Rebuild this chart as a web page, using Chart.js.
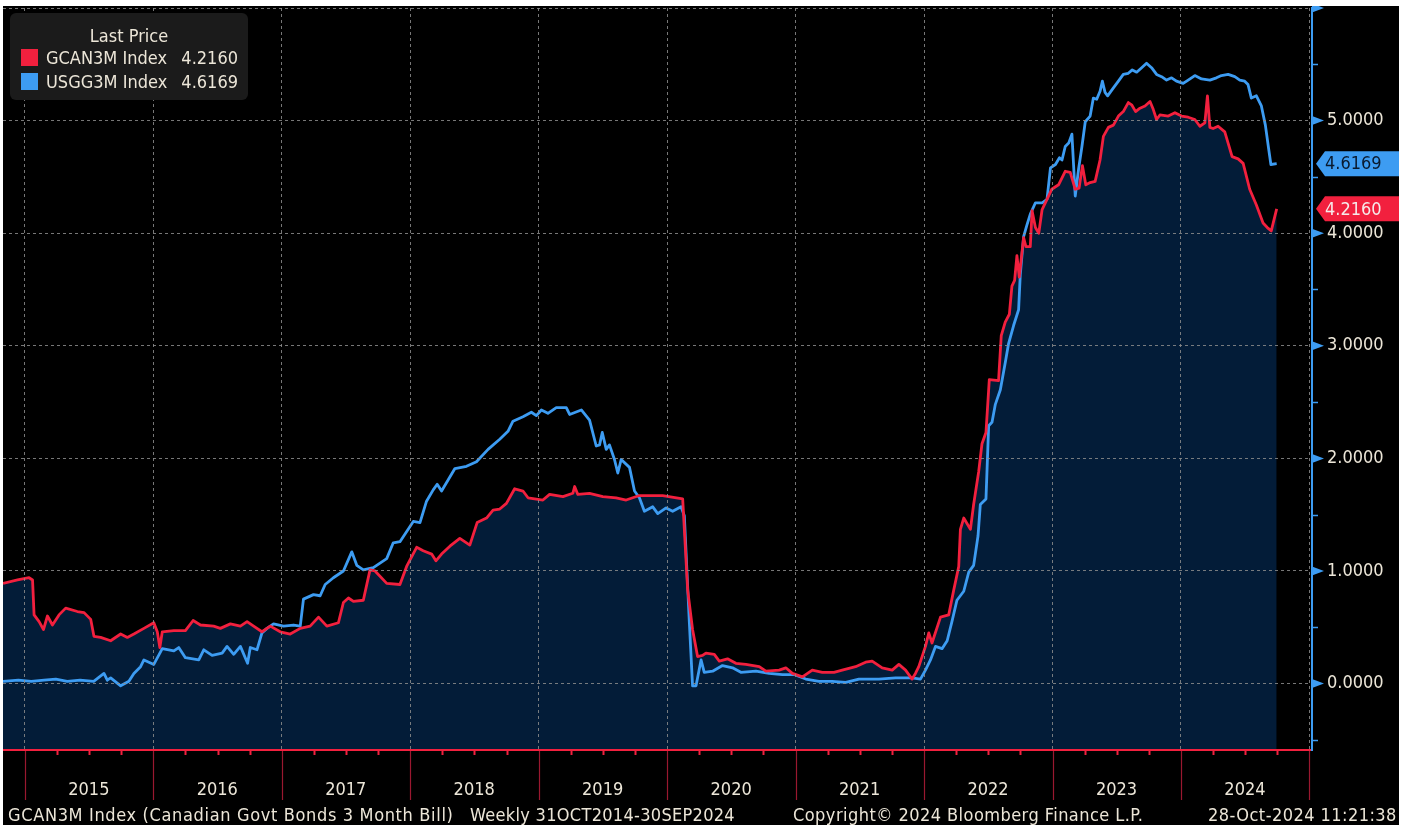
<!DOCTYPE html>
<html>
<head>
<meta charset="utf-8">
<script src="https://cdn.jsdelivr.net/npm/chart.js@4"></script>
<style>
	html, body { margin: 0; padding: 0; background: #fff; }
	#frame { position: absolute; left: 3px; top: 6px; width: 1396px; height: 819px; background: #000; overflow: hidden; }
	#chart { position: absolute; left: 0; top: 0; }
	.txt { position: absolute; font-family: 'DejaVu Sans Condensed', 'DejaVu Sans', sans-serif; font-size: 18px; line-height: 20px; color: #ece6d8; white-space: pre; }
	.foot { letter-spacing: 0.45px; }
	#legend { position: absolute; left: 7px; top: 7px; width: 238px; height: 87px; background: #1b1b1b; border-radius: 6px; }
	.sw { position: absolute; width: 17px; height: 17px; }
</style>
</head>
<body>
<div id="frame">
	<canvas id="chart" width="1396" height="819"></canvas>
	<div id="legend"></div>
</div>
<script>
// weekly closes, time as decimal year
const gcanT = [2014.83, 2014.943, 2015.033, 2015.060, 2015.072, 2015.111, 2015.145, 2015.176, 2015.215, 2015.266,
	2015.318, 2015.409, 2015.461, 2015.513, 2015.538, 2015.590, 2015.668, 2015.746, 2015.798, 2015.849,
	2015.927, 2016.004, 2016.031, 2016.051, 2016.070, 2016.160, 2016.250, 2016.310, 2016.367, 2016.470,
	2016.522, 2016.600, 2016.678, 2016.730, 2016.781, 2016.846, 2016.911, 2016.988, 2017.066, 2017.144,
	2017.221, 2017.286, 2017.351, 2017.441, 2017.480, 2017.519, 2017.558, 2017.635, 2017.687, 2017.726,
	2017.817, 2017.920, 2017.972, 2018.050, 2018.101, 2018.167, 2018.200, 2018.244, 2018.309, 2018.386,
	2018.464, 2018.521, 2018.594, 2018.645, 2018.697, 2018.749, 2018.813, 2018.878, 2018.917, 2019.033,
	2019.085, 2019.189, 2019.266, 2019.280, 2019.305, 2019.396, 2019.499, 2019.603, 2019.681, 2019.784,
	2019.965, 2020.121, 2020.160, 2020.198, 2020.237, 2020.276, 2020.302, 2020.367, 2020.406, 2020.470,
	2020.535, 2020.613, 2020.717, 2020.769, 2020.872, 2020.924, 2020.975, 2021.053, 2021.130, 2021.208,
	2021.299, 2021.363, 2021.467, 2021.545, 2021.596, 2021.674, 2021.752, 2021.804, 2021.856, 2021.907,
	2021.933, 2021.959, 2022.011, 2022.037, 2022.062, 2022.128, 2022.192, 2022.231, 2022.270, 2022.283,
	2022.309, 2022.361, 2022.386, 2022.425, 2022.451, 2022.482, 2022.508, 2022.580, 2022.601, 2022.632,
	2022.664, 2022.684, 2022.705, 2022.723, 2022.741, 2022.775, 2022.793, 2022.827, 2022.841, 2022.867,
	2022.893, 2022.919, 2022.994, 2023.047, 2023.099, 2023.138, 2023.177, 2023.207, 2023.233, 2023.259,
	2023.293, 2023.332, 2023.370, 2023.396, 2023.435, 2023.474, 2023.513, 2023.551, 2023.590, 2023.616,
	2023.647, 2023.681, 2023.720, 2023.759, 2023.784, 2023.810, 2023.836, 2023.901, 2023.953, 2024.004,
	2024.056, 2024.108, 2024.147, 2024.186, 2024.206, 2024.225, 2024.250, 2024.289, 2024.341, 2024.367,
	2024.398, 2024.445, 2024.484, 2024.535, 2024.587, 2024.639, 2024.672, 2024.703, 2024.745];
const gcanV = [0.89, 0.92, 0.94, 0.92, 0.61, 0.55, 0.48, 0.60, 0.52, 0.61,
	0.67, 0.64, 0.63, 0.57, 0.42, 0.41, 0.38, 0.44, 0.41, 0.44,
	0.49, 0.54, 0.46, 0.32, 0.46, 0.47, 0.47, 0.56, 0.52, 0.51,
	0.49, 0.53, 0.51, 0.55, 0.51, 0.46, 0.51, 0.46, 0.44, 0.49,
	0.51, 0.59, 0.51, 0.54, 0.72, 0.76, 0.73, 0.74, 1.01, 1.00,
	0.89, 0.88, 1.04, 1.21, 1.18, 1.15, 1.09, 1.15, 1.22, 1.29,
	1.23, 1.43, 1.47, 1.54, 1.55, 1.60, 1.73, 1.71, 1.65, 1.63,
	1.68, 1.66, 1.69, 1.75, 1.68, 1.69, 1.66, 1.65, 1.63, 1.67,
	1.67, 1.64, 0.83, 0.48, 0.24, 0.25, 0.27, 0.26, 0.20, 0.22,
	0.18, 0.17, 0.15, 0.11, 0.12, 0.14, 0.09, 0.06, 0.12, 0.10,
	0.10, 0.12, 0.15, 0.19, 0.20, 0.14, 0.12, 0.17, 0.12, 0.04,
	0.09, 0.15, 0.33, 0.45, 0.36, 0.59, 0.61, 0.83, 1.04, 1.37,
	1.47, 1.37, 1.59, 1.88, 2.13, 2.23, 2.70, 2.69, 3.09, 3.21,
	3.28, 3.53, 3.58, 3.80, 3.61, 3.96, 3.88, 3.88, 4.20, 4.05,
	4.00, 4.21, 4.39, 4.43, 4.55, 4.54, 4.39, 4.40, 4.60, 4.43,
	4.45, 4.46, 4.65, 4.86, 4.94, 4.96, 5.04, 5.08, 5.16, 5.14,
	5.08, 5.11, 5.13, 5.17, 5.10, 5.01, 5.05, 5.04, 5.07, 5.04,
	5.03, 5.01, 4.95, 4.98, 5.22, 4.94, 4.93, 4.95, 4.90, 4.80,
	4.68, 4.66, 4.62, 4.39, 4.25, 4.09, 4.05, 4.02, 4.2160];

const usggT = [2014.83, 2014.95, 2015.05, 2015.15, 2015.241, 2015.33, 2015.43, 2015.536, 2015.616, 2015.642,
	2015.668, 2015.746, 2015.810, 2015.849, 2015.901, 2015.927, 2016.004, 2016.070, 2016.160, 2016.198,
	2016.250, 2016.354, 2016.393, 2016.458, 2016.536, 2016.574, 2016.626, 2016.678, 2016.734, 2016.755,
	2016.807, 2016.846, 2016.885, 2016.936, 2017.014, 2017.092, 2017.144, 2017.169, 2017.247, 2017.299,
	2017.338, 2017.402, 2017.480, 2017.545, 2017.584, 2017.635, 2017.713, 2017.817, 2017.868, 2017.920,
	2018.024, 2018.076, 2018.127, 2018.179, 2018.210, 2018.244, 2018.296, 2018.348, 2018.438, 2018.516,
	2018.606, 2018.697, 2018.761, 2018.800, 2018.878, 2018.943, 2018.982, 2019.021, 2019.072, 2019.137,
	2019.215, 2019.241, 2019.332, 2019.396, 2019.448, 2019.474, 2019.495, 2019.526, 2019.551, 2019.590,
	2019.616, 2019.642, 2019.707, 2019.746, 2019.784, 2019.823, 2019.888, 2019.927, 2019.992, 2020.043,
	2020.108, 2020.134, 2020.173, 2020.198, 2020.225, 2020.264, 2020.289, 2020.354, 2020.431, 2020.509,
	2020.574, 2020.691, 2020.794, 2020.897, 2020.988, 2021.079, 2021.182, 2021.286, 2021.390, 2021.493,
	2021.649, 2021.778, 2021.907, 2021.972, 2022.011, 2022.050, 2022.089, 2022.140, 2022.180, 2022.217,
	2022.256, 2022.309, 2022.348, 2022.386, 2022.420, 2022.438, 2022.482, 2022.503, 2022.529, 2022.555,
	2022.594, 2022.632, 2022.658, 2022.697, 2022.736, 2022.749, 2022.775, 2022.800, 2022.827, 2022.867,
	2022.919, 2022.957, 2022.984, 2023.023, 2023.054, 2023.074, 2023.099, 2023.126, 2023.151, 2023.177,
	2023.203, 2023.229, 2023.255, 2023.293, 2023.318, 2023.344, 2023.370, 2023.388, 2023.409, 2023.429,
	2023.474, 2023.513, 2023.551, 2023.590, 2023.621, 2023.655, 2023.694, 2023.732, 2023.771, 2023.810,
	2023.849, 2023.888, 2023.927, 2023.965, 2024.017, 2024.056, 2024.108, 2024.160, 2024.225, 2024.276,
	2024.315, 2024.367, 2024.419, 2024.458, 2024.496, 2024.522, 2024.548, 2024.587, 2024.626, 2024.657,
	2024.680, 2024.700, 2024.745];
const usggV = [0.02, 0.03, 0.02, 0.03, 0.04, 0.02, 0.03, 0.02, 0.09, 0.03,
	0.05, -0.02, 0.02, 0.09, 0.15, 0.21, 0.17, 0.31, 0.29, 0.32,
	0.23, 0.21, 0.30, 0.25, 0.27, 0.33, 0.26, 0.33, 0.18, 0.32,
	0.30, 0.45, 0.49, 0.53, 0.51, 0.52, 0.51, 0.75, 0.79, 0.78,
	0.88, 0.94, 1.00, 1.17, 1.05, 1.01, 1.03, 1.11, 1.25, 1.26,
	1.44, 1.43, 1.62, 1.72, 1.77, 1.71, 1.81, 1.91, 1.93, 1.97,
	2.08, 2.17, 2.24, 2.33, 2.37, 2.41, 2.38, 2.43, 2.40, 2.45,
	2.45, 2.39, 2.43, 2.34, 2.11, 2.12, 2.23, 2.08, 2.12, 1.99,
	1.87, 1.99, 1.92, 1.71, 1.65, 1.53, 1.57, 1.51, 1.56, 1.53,
	1.57, 1.49, 0.54, -0.02, -0.02, 0.21, 0.10, 0.11, 0.16, 0.14,
	0.10, 0.11, 0.09, 0.08, 0.08, 0.04, 0.02, 0.02, 0.01, 0.04,
	0.04, 0.05, 0.05, 0.04, 0.12, 0.21, 0.33, 0.31, 0.38, 0.55,
	0.74, 0.82, 0.99, 1.05, 1.31, 1.59, 1.64, 2.29, 2.32, 2.48,
	2.61, 2.85, 3.02, 3.18, 3.32, 3.63, 3.97, 4.07, 4.17, 4.27,
	4.27, 4.30, 4.58, 4.61, 4.67, 4.65, 4.77, 4.80, 4.88, 4.33,
	4.57, 4.77, 4.99, 5.04, 5.20, 5.19, 5.26, 5.35, 5.25, 5.22,
	5.29, 5.35, 5.41, 5.42, 5.45, 5.43, 5.47, 5.51, 5.47, 5.41,
	5.39, 5.36, 5.38, 5.35, 5.33, 5.36, 5.40, 5.37, 5.36, 5.38,
	5.40, 5.41, 5.39, 5.36, 5.35, 5.32, 5.20, 5.22, 5.13, 4.96,
	4.77, 4.61, 4.6169];

const seriesNames = ['GCAN3M Index', 'USGG3M Index'];
const legendTitle = 'Last Price';
const yearTicks = [2015, 2016, 2017, 2018, 2019, 2020, 2021, 2022, 2023, 2024];
const footer = [
	['GCAN3M Index (Canadian Govt Bonds 3 Month Bill)', 5, 0.65],
	['Weekly 31OCT2014-30SEP2024', 467, 0.3],
	['Copyright\u00a9 2024 Bloomberg Finance L.P.', 790, 0.45],
	['28-Oct-2024 11:21:38', 1205, 0.45]
];

const RED = '#f2203e';
const BLUE = '#3d9cf2';
const NAVY = '#031c38';
const TEXT = '#ece6d8';
const FONT_FAMILY = "'DejaVu Sans Condensed', 'DejaVu Sans', sans-serif";

const pts = (t, v) => t.map((x, i) => ({x, y: v[i]}));
const lastG = gcanV[gcanV.length - 1];
const lastU = usggV[usggV.length - 1];

// legend + footer as plain text
const legend = document.getElementById('legend'); {
	const ttl = document.createElement('div');
	ttl.className = 'txt';
	ttl.textContent = legendTitle;
	ttl.style.cssText = 'left:0;width:238px;text-align:center;top:13px';
	legend.appendChild(ttl);
	[[RED, lastG], [BLUE, lastU]].forEach(([c, v], i) => {
		const top = 36 + i * 24;
		const sw = document.createElement('div');
		sw.className = 'sw';
		sw.style.cssText = `left:11px;top:${top}px;background:${c}`;
		legend.appendChild(sw);
		const nm = document.createElement('div');
		nm.className = 'txt';
		nm.textContent = seriesNames[i];
		nm.style.cssText = `left:36px;top:${top - 1}px`;
		legend.appendChild(nm);
		const val = document.createElement('div');
		val.className = 'txt';
		val.textContent = v.toFixed(4);
		val.style.cssText = `right:10px;top:${top - 1}px`;
		legend.appendChild(val);
	});
}
footer.forEach(([s, left, sp]) => {
	const d = document.createElement('div');
	d.className = 'txt';
	d.textContent = s;
	d.style.cssText = `left:${left}px;top:799px;letter-spacing:${sp}px`;
	document.getElementById('frame').appendChild(d);
});

const bbgAxes = {
	id: 'bbgAxes',
	afterDraw(chart) {
		const {ctx, chartArea, scales: {x, y}} = chart;
		const base = chartArea.bottom;
		const ax = chartArea.right;
		ctx.save();
		// quarter + year ticks under the red axis
		for (let yr = 2014; yr <= 2025; yr++) {
			for (let q = 0; q < 4; q++) {
				const v = yr + q / 4;
				if (v < x.min || v > x.max) continue;
				const px = Math.round(x.getPixelForValue(v)) + 0.5;
				ctx.beginPath();
				if (q === 0) {
					ctx.strokeStyle = '#9a1830';
					ctx.lineWidth = 1.2;
					ctx.moveTo(px, base + 1);
					ctx.lineTo(px, base + 50);
				} else {
					ctx.strokeStyle = RED;
					ctx.lineWidth = 2;
					ctx.moveTo(px, base);
					ctx.lineTo(px, base + 5);
				}
				ctx.stroke();
			}
		}
		// triangles at the whole numbers, short ticks at the halves
		ctx.fillStyle = BLUE;
		ctx.strokeStyle = BLUE;
		ctx.lineWidth = 1.5;
		for (let k = -1; k <= 12; k++) {
			const v = k / 2;
			if (v < y.min || v > y.max) continue;
			const py = y.getPixelForValue(v);
			if (k % 2 === 0) {
				ctx.beginPath();
				ctx.moveTo(ax, py - 4.5);
				ctx.lineTo(ax + 12, py);
				ctx.lineTo(ax, py + 4.5);
				ctx.closePath();
				ctx.fill();
			} else {
				ctx.beginPath();
				ctx.moveTo(ax, Math.round(py) + 0.5);
				ctx.lineTo(ax + 6, Math.round(py) + 0.5);
				ctx.stroke();
			}
		}
		// last value tags
		const tag = (val, bg, fg) => {
			const py = y.getPixelForValue(val);
			ctx.fillStyle = bg;
			ctx.beginPath();
			ctx.moveTo(ax + 4, py);
			ctx.lineTo(ax + 13, py - 12.5);
			ctx.lineTo(chart.width, py - 12.5);
			ctx.lineTo(chart.width, py + 12.5);
			ctx.lineTo(ax + 13, py + 12.5);
			ctx.closePath();
			ctx.fill();
			ctx.fillStyle = fg;
			ctx.font = `18px ${FONT_FAMILY}`;
			ctx.textBaseline = 'middle';
			ctx.textAlign = 'left';
			ctx.fillText(val.toFixed(4), ax + 13, py + 1);
		};
		tag(lastU, BLUE, '#0a1a2e');
		tag(lastG, RED, '#f6eaea');
		ctx.restore();
	}
};

const chart = new Chart(document.getElementById('chart').getContext('2d'), {
	type: 'line',
	data: {
		datasets: [
			{
				label: seriesNames[0],
				data: pts(gcanT, gcanV),
				borderColor: RED,
				backgroundColor: NAVY,
				borderWidth: 2.8,
				borderJoinStyle: 'round',
				pointRadius: 0,
				tension: 0,
				fill: 'start'
			},
			{
				label: seriesNames[1],
				data: pts(usggT, usggV),
				borderColor: BLUE,
				borderWidth: 2.8,
				borderJoinStyle: 'round',
				pointRadius: 0,
				tension: 0,
				fill: false
			}
		]
	},
	options: {
		responsive: false,
		animation: false,
		layout: { padding: { top: 2, left: 0, right: 0, bottom: 0 } },
		plugins: {
			legend: { display: false },
			tooltip: { enabled: false },
			filler: { drawTime: 'beforeDatasetsDraw' }
		},
		scales: {
			x: {
				type: 'linear',
				min: 2014.83,
				max: 2025.02,
				afterFit: s => { s.height = 75; s.paddingLeft = 0; s.paddingRight = 0; },
				ticks: {
					stepSize: 1,
					includeBounds: false,
					autoSkip: false,
					maxRotation: 0,
					labelOffset: 64,
					padding: 30,
					color: TEXT,
					font: { family: FONT_FAMILY, size: 18 },
					callback: v => yearTicks.includes(v) ? String(v) : ''
				},
				grid: { color: 'rgba(140,140,140,0.85)', lineWidth: 1, drawTicks: false, z: 1 },
				border: { display: true, color: RED, width: 2, dash: [3, 3], z: 2 }
			},
			y: {
				position: 'right',
				min: -0.59,
				max: 6.0,
				afterFit: s => { s.width = 87; s.paddingTop = 0; s.paddingBottom = 0; },
				ticks: {
					stepSize: 1,
					includeBounds: false,
					padding: 15,
					color: TEXT,
					font: { family: FONT_FAMILY, size: 18 },
					callback: v => v >= 6 ? '' : v.toFixed(4)
				},
				grid: { color: 'rgba(140,140,140,0.85)', lineWidth: 1, drawTicks: false, z: 1 },
				border: { display: true, color: BLUE, width: 2, dash: [3, 3], z: 2 }
			}
		}
	},
	plugins: [bbgAxes]
});
</script>
</body>
</html>
